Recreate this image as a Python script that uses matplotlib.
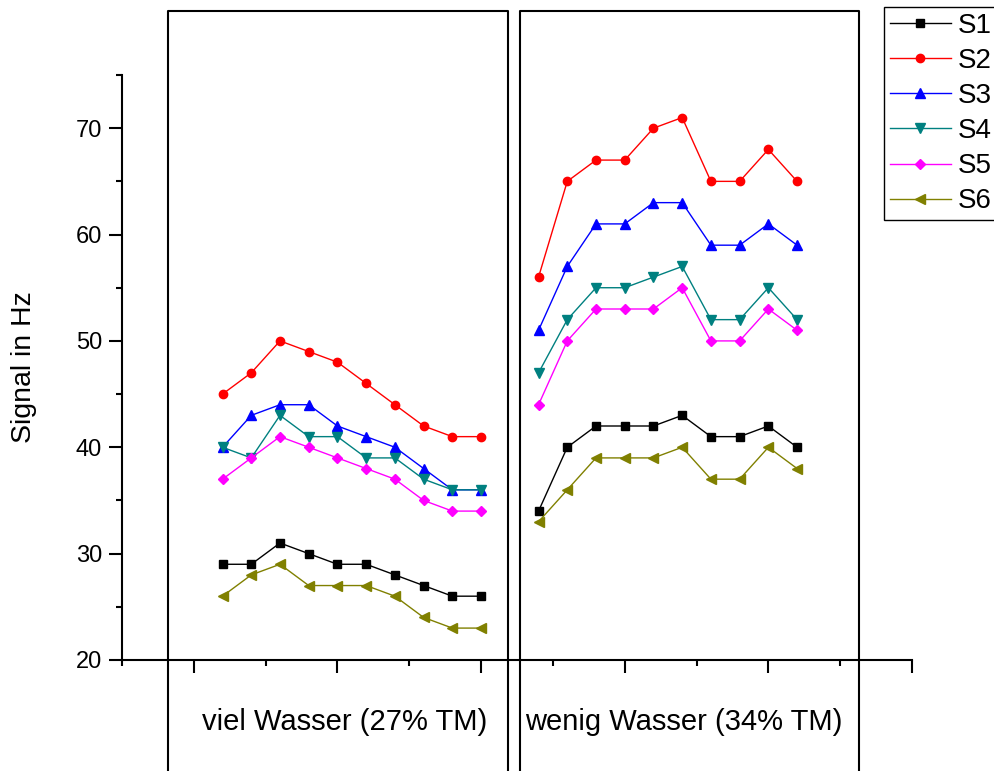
import matplotlib.pyplot as plt
from matplotlib.lines import Line2D
from matplotlib.ticker import MultipleLocator

plt.rcParams['font.family'] = ['Liberation Sans', 'DejaVu Sans']

# sample index inside each group
x_viel = [1, 2, 3, 4, 5, 6, 7, 8, 9, 10]
x_wenig = [12, 13, 14, 15, 16, 17, 18, 19, 20, 21]

names = ["S1", "S2", "S3", "S4", "S5", "S6"]

viel = {
    "S1": [29, 29, 31, 30, 29, 29, 28, 27, 26, 26],
    "S2": [45, 47, 50, 49, 48, 46, 44, 42, 41, 41],
    "S3": [40, 43, 44, 44, 42, 41, 40, 38, 36, 36],
    "S4": [40, 39, 43, 41, 41, 39, 39, 37, 36, 36],
    "S5": [37, 39, 41, 40, 39, 38, 37, 35, 34, 34],
    "S6": [26, 28, 29, 27, 27, 27, 26, 24, 23, 23],
}
wenig = {
    "S1": [34, 40, 42, 42, 42, 43, 41, 41, 42, 40],
    "S2": [56, 65, 67, 67, 70, 71, 65, 65, 68, 65],
    "S3": [51, 57, 61, 61, 63, 63, 59, 59, 61, 59],
    "S4": [47, 52, 55, 55, 56, 57, 52, 52, 55, 52],
    "S5": [44, 50, 53, 53, 53, 55, 50, 50, 53, 51],
    "S6": [33, 36, 39, 39, 39, 40, 37, 37, 40, 38],
}

group_labels = ["viel Wasser (27% TM)", "wenig Wasser (34% TM)"]

colors = {"S1": "#000000", "S2": "#ff0000", "S3": "#0000ff",
          "S4": "#008080", "S5": "#ff00ff", "S6": "#808000"}
markers = {"S1": "s", "S2": "o", "S3": "^", "S4": "v", "S5": "D", "S6": "<"}
msize = {"S1": 5.5, "S2": 6, "S3": 6.5, "S4": 6.5, "S5": 5, "S6": 6.5}

W, H = 995, 771
fig = plt.figure(figsize=(W / 100, H / 100), dpi=100)
ax = fig.add_axes([122 / W, 1 - 660 / H, 790 / W, 585 / H])

for n in names:
    kw = dict(color=colors[n], marker=markers[n], markersize=msize[n], lw=1.0)
    ax.plot(x_viel, viel[n], label=n, **kw)
    ax.plot(x_wenig, wenig[n], **kw)

ax.set_xlim(-2.5, 25)
ax.set_ylim(20, 75)
ax.xaxis.set_major_locator(MultipleLocator(5))
ax.xaxis.set_minor_locator(MultipleLocator(2.5))
ax.yaxis.set_major_locator(MultipleLocator(10))
ax.yaxis.set_minor_locator(MultipleLocator(5))
ax.set_xticklabels([])
ax.tick_params(which='major', length=9.5, width=1.5, labelsize=17, pad=5)
ax.tick_params(which='minor', length=4.5, width=1.5)
for s in ['top', 'right']:
    ax.spines[s].set_visible(False)
for s in ['left', 'bottom']:
    ax.spines[s].set_linewidth(1.5)
ax.set_ylabel("Signal in Hz", fontsize=20.5)
ax.yaxis.label.set_va('center')
ax.yaxis.set_label_coords((24 - 122) / 790, 0.5)

# group boxes drawn in figure pixel space
for x0, x1 in [(168, 508), (520, 859)]:
    fig.add_artist(Line2D([x0 / W, x0 / W, x1 / W, x1 / W],
                          [-0.01, 1 - 11 / H, 1 - 11 / H, -0.01],
                          color='black', lw=1.5, transform=fig.transFigure))

for cx, lab in zip([345, 684], group_labels):
    fig.text(cx / W, 1 - 722 / H, lab, fontsize=21, ha='center', va='center')

leg = ax.legend(loc='upper left', bbox_to_anchor=(884 / W, 1 - 7 / H),
                bbox_transform=fig.transFigure, fontsize=20, frameon=True,
                fancybox=False, edgecolor='black', framealpha=1,
                handlelength=2.2, handletextpad=0.25, labelspacing=0.33,
                borderpad=0.2, borderaxespad=0)
leg.get_frame().set_linewidth(1.0)

fig.savefig("out.png", dpi=100)
